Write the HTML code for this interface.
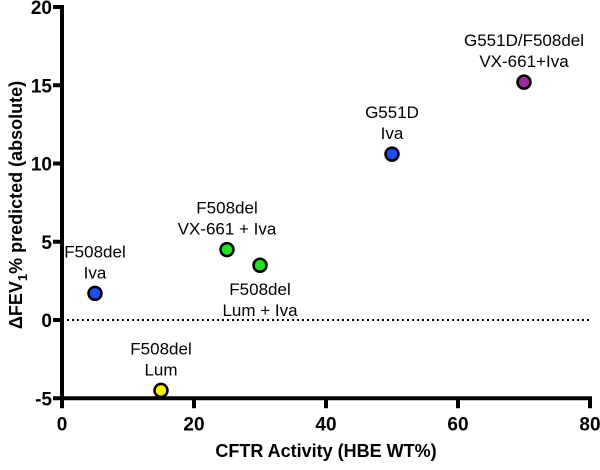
<!DOCTYPE html>
<html><head><meta charset="utf-8"><style>
body{margin:0;background:#fff}
svg text{font-family:"Liberation Sans",Arial,sans-serif}
</style></head><body>
<svg width="600" height="465">
<g id="axes"></g><g id="pts"></g>
<text x="22" y="205" transform="rotate(-90 22 205)" text-anchor="middle" font-size="18" font-weight="bold">ΔFEV<tspan font-size="13" dy="5">1</tspan><tspan dy="-5">% predicted (absolute)</tspan></text>
<text x="326" y="457" text-anchor="middle" font-size="18" font-weight="bold">CFTR Activity (HBE WT%)</text>
</svg>
<script>
const xVals=[5,15,25,30,50,70];
const yVals=[1.7,-4.5,4.5,3.5,10.6,15.2];
const colors=["#1f4ef0","#f5f000","#22e022","#22e022","#1f4ef0","#9b2a9b"];
const labels=[["F508del","Iva"],["F508del","Lum"],["F508del","VX-661 + Iva"],["F508del","Lum + Iva"],["G551D","Iva"],["G551D/F508del","VX-661+Iva"]];
const labelPos=[-1,-1,-1,1,-1,-1];
const xTicks=[0,20,40,60,80];
const yTicks=[-5,0,5,10,15,20];
const X=v=>62+v*6.6, Y=v=>320-v*15.65;
const NS="http://www.w3.org/2000/svg";
function mk(t,a,p){const e=document.createElementNS(NS,t);for(const k in a)e.setAttribute(k,a[k]);p.appendChild(e);return e;}
const ax=document.getElementById('axes');
let l=mk('line',{x1:X(0),x2:X(0),y1:Y(20)-2,y2:Y(-5)+2,stroke:'#000','stroke-width':4},ax);


l=mk('line',{x1:X(0)-2,x2:X(80)+2,y1:Y(-5),y2:Y(-5),stroke:'#000','stroke-width':4},ax);


l=mk('line',{x1:X(0),x2:X(80),y1:Y(0),y2:Y(0),stroke:'#000','stroke-width':2,'stroke-dasharray':'2,3'},ax);


xTicks.forEach(v=>{mk('line',{x1:X(v),x2:X(v),y1:Y(-5),y2:Y(-5)+10,stroke:'#000','stroke-width':4},ax);
const t=mk('text',{x:X(v),y:Y(-5)+32,'text-anchor':'middle','font-size':19,'font-weight':'bold'},ax);t.textContent=v;

});
yTicks.forEach(v=>{mk('line',{x1:X(0)-9,x2:X(0),y1:Y(v),y2:Y(v),stroke:'#000','stroke-width':4},ax);
const t=mk('text',{x:X(0)-10,y:Y(v)+7,'text-anchor':'end','font-size':19,'font-weight':'bold'},ax);t.textContent=v;

});
const pg=document.getElementById('pts');
xVals.forEach((v,i)=>{const c=mk('circle',{cx:X(v),cy:Y(yVals[i]),r:6.5,fill:colors[i],stroke:'#000','stroke-width':2.5},pg);


const dir=labelPos[i];const lx=X(v);
const base=dir<0?Y(yVals[i])-36:Y(yVals[i])+30;
labels[i].forEach((s,j)=>{const t=mk('text',{x:lx,y:base+j*21,'text-anchor':'middle','font-size':17},pg);t.textContent=s;

});});
</script>
</body></html>
